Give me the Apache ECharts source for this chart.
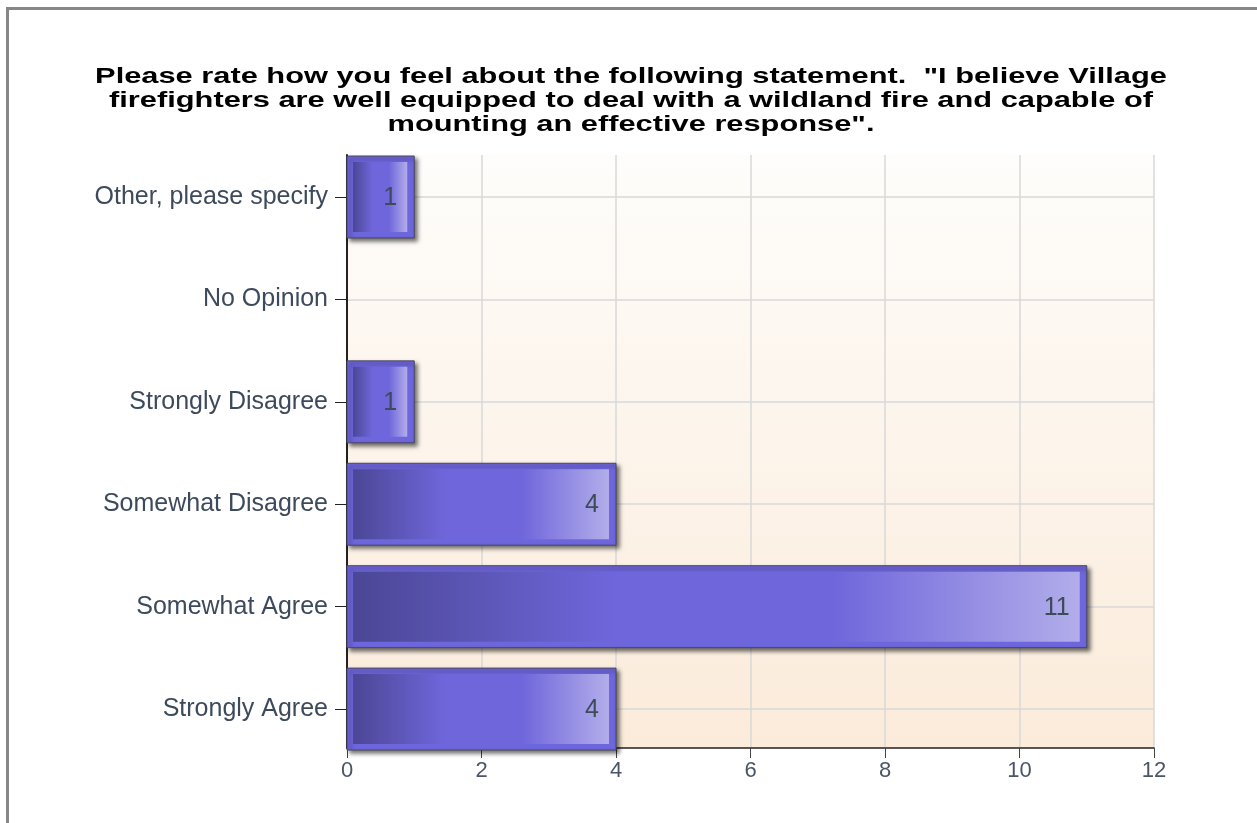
<!DOCTYPE html>
<html>
<head>
<meta charset="utf-8">
<script src="https://cdn.jsdelivr.net/npm/echarts@6/dist/echarts.min.js"></script>
<style>
html,body{margin:0;padding:0;background:#fff;}
#frame{position:absolute;left:6px;top:7px;width:1300px;height:900px;border-left:3px solid #878787;border-top:3px solid #878787;box-sizing:border-box;}
#chart{position:absolute;left:0;top:0;width:1257px;height:823px;}
</style>
</head>
<body>
<div id="frame"></div>
<div id="chart"></div>
<script>
// Categories listed bottom to top
const categories = ["Strongly Agree", "Somewhat Agree", "Somewhat Disagree", "Strongly Disagree", "No Opinion", "Other, please specify"];
const counts = [4, 11, 4, 1, 0, 1];
const xTicks = [0, 2, 4, 6, 8, 10, 12];
const titleLines = [
  "Please rate how you feel about the following statement.  \"I believe Village",
  "firefighters are well equipped to deal with a wildland fire and capable of",
  "mounting an effective response\"."
];

const FONT = '"Liberation Sans", Arial, sans-serif';
const chart = echarts.init(document.getElementById('chart'), null, {renderer: 'canvas'});
const idx = categories.map((_, i) => i);
const seriesData = counts.map((v, i) => [v, i]);

function renderBar(params, api) {
  const val = api.value(0);
  const ci = api.value(1);
  if (!val) return null;
  const start = api.coord([0, ci]);
  const end = api.coord([val, ci]);
  const h = api.size([0, 0.8])[1];
  const x = start[0], y = start[1] - h / 2, w = end[0] - start[0];
  const inset = 6;
  return {
    type: 'group',
    children: [
      {
        type: 'rect',
        shape: {x: x, y: y, width: w, height: h},
        style: {
          fill: '#6e66dc', stroke: '#4a4860', lineWidth: 1,
          shadowBlur: 4, shadowOffsetX: 3, shadowOffsetY: 3, shadowColor: 'rgba(0,0,0,0.55)'
        }
      },
      {
        type: 'rect',
        shape: {x: x + inset, y: y + inset, width: w - 2 * inset - 1, height: h - 2 * inset},
        style: {
          fill: new echarts.graphic.LinearGradient(0, 0, 1, 0, [
            {offset: 0, color: '#4b4795'},
            {offset: 0.36, color: '#6f66db'},
            {offset: 0.66, color: '#6f66db'},
            {offset: 1, color: '#b2adea'}
          ])
        }
      },
      {
        type: 'text',
        style: {
          x: end[0] - 17, y: start[1] + 1,
          text: String(val),
          align: 'right', verticalAlign: 'middle',
          fill: '#3d4a5a', font: '25px ' + FONT
        }
      }
    ]
  };
}

chart.setOption({
  animation: false,
  graphic: [{
    type: 'text',
    x: 631, y: 65,
    scaleX: 1.40,
    style: {
      text: titleLines.join('\n'),
      align: 'center', verticalAlign: 'top',
      font: 'bold 22px ' + FONT,
      lineHeight: 24,
      fill: '#000'
    }
  }],
  grid: {
    left: 347, right: 103, top: 155, bottom: 75,
    show: true, borderWidth: 0,
    backgroundColor: new echarts.graphic.LinearGradient(0, 0, 0, 1, [
      {offset: 0, color: '#fefdfb'},
      {offset: 1, color: '#fbebda'}
    ])
  },
  xAxis: {
    type: 'value', min: xTicks[0], max: xTicks[xTicks.length - 1], interval: 2,
    axisLine: {show: true, onZero: false, lineStyle: {color: '#222', width: 1.5}},
    axisTick: {show: true, length: 10, lineStyle: {color: '#444'}},
    axisLabel: {color: '#4a5566', fontSize: 22, margin: 12, fontFamily: FONT},
    splitLine: {show: true, lineStyle: {color: '#d9d9d9', width: 1.5}}
  },
  yAxis: {
    type: 'value', min: -0.38, max: 5.41,
    axisLine: {show: true, onZero: false, lineStyle: {color: '#222', width: 2}},
    axisTick: {show: true, length: 12, customValues: idx, lineStyle: {color: '#222'}},
    axisLabel: {
      customValues: idx, color: '#3d4a5c', fontSize: 25, margin: 19, fontFamily: FONT,
      formatter: v => categories[Math.round(v)] || ''
    },
    splitLine: {show: true, lineStyle: {color: '#d9d9d9', width: 1.5}}
  },
  series: [{
    type: 'custom',
    renderItem: renderBar,
    data: seriesData,
    encode: {x: 0, y: 1},
    z: 5
  }]
});
</script>
</body>
</html>
